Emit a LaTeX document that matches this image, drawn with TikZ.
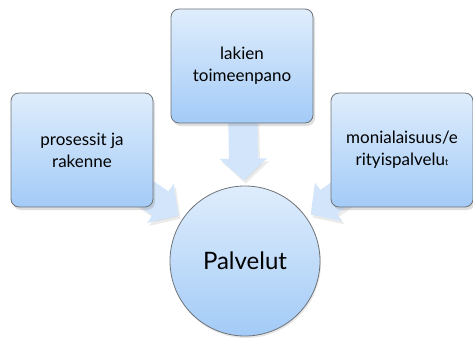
\documentclass[tikz,border=0pt]{standalone}
\usepackage{fontspec}
\setmainfont{Lato}
\usetikzlibrary{arrows.meta}
\usetikzlibrary{shadows}

\definecolor{boxtop}{HTML}{DFEDFC}
\definecolor{boxbottom}{HTML}{A3CBF7}
\definecolor{boxline}{HTML}{6E7378}
\definecolor{arrowfill}{HTML}{D2E5FA}

\pgfdeclarelayer{background}
\pgfsetlayers{background,main}

\tikzset{
  topic/.style={draw=boxline, line width=0.8pt, rounded corners=8pt,
    top color=boxtop, bottom color=boxbottom,
    minimum width=142pt, minimum height=114pt, align=center,
    font=\fontsize{17}{22}\selectfont,
    drop shadow={shadow xshift=2pt, shadow yshift=-3pt, opacity=0.25}},
  hub/.style={circle, draw=boxline, line width=0.8pt,
    top color=boxtop, bottom color=boxbottom,
    minimum size=150pt, inner sep=0pt, font=\fontsize{24}{29}\selectfont,
    drop shadow={shadow xshift=1pt, shadow yshift=-2pt, opacity=0.2}},
  blockarrow/.style={line width=29pt, draw=arrowfill, shorten >=5pt,
    -{Triangle[width=46pt,length=22pt]}},
  blockshadow/.style={blockarrow, draw=black, opacity=0.08}
}

\begin{document}
\begin{tikzpicture}[x=1pt,y=-1pt]
  \useasboundingbox (0,0) rectangle (473,337);

  \node[hub] (palvelut) at (245,261) {Palvelut};
  \node[topic] (laki) at (242,66) {lakien\\toimeenpano};
  \node[topic] (prosessi) at (82,150) {prosessit ja\\rakenne};
  \node[topic] (moniala) at (402,150)
    {monialaisuus/e\\rityispalvelu{\fontsize{9}{9}\selectfont t}};

  \begin{pgfonlayer}{background}
    % arrow shadows first
    \foreach \src in {laki,prosessi,moniala}
      \draw[blockshadow, transform canvas={shift={(2pt,-3pt)}}]
        (\src.center) -- (palvelut);
    \foreach \src in {laki,prosessi,moniala}
      \draw[blockarrow] (\src.center) -- (palvelut);
  \end{pgfonlayer}
\end{tikzpicture}
\end{document}
